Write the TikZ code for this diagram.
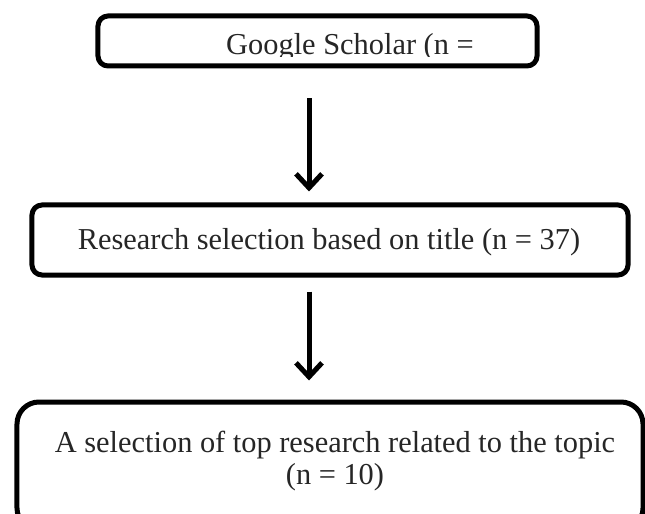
\documentclass[tikz,border=0pt]{standalone}
\usepackage{fontspec}
\setmainfont{Liberation Serif}
\usetikzlibrary{arrows.meta}
\begin{document}
\begin{tikzpicture}[x=1bp,y=-1bp,
  box/.style={draw=black, line width=5bp, fill=white, inner sep=0pt},
  txt/.style={inner sep=0pt, font=\fontsize{30.5}{33}\selectfont, text=black!85},
  arr/.style={line width=5bp, -{Straight Barb[length=14bp,width=26bp]}}]
\useasboundingbox (0,0) rectangle (645,514);
\clip (0,0) rectangle (645,514);
% boxes
\node[box, rounded corners=10bp, minimum width=439bp, minimum height=50bp] (top) at (317.5,41) {};
\node[box, rounded corners=10bp, minimum width=596bp, minimum height=70bp] (mid) at (330,240) {};
\node[box, rounded corners=22bp, minimum width=626bp, minimum height=128bp] (bot) at (330,466) {};
% texts
\begin{scope}
\clip (100,20) rectangle (535,57);
\node[txt, anchor=base] (toptxt) at (350,55) {Google Scholar (n =};
\end{scope}
\node[txt, anchor=base] (midtxt) at (329,250) {Research selection based on title (n = 37)};
\node[txt, align=center] (bottxt) at (335,461) {A selection of top research related to the topic\\(n = 10)};
% arrows
\coordinate (ax) at (309,0);
\draw[arr, shorten <=30bp, shorten >=11bp] (top.south -| ax) -- (mid.north -| ax);
\draw[arr, shorten <=14bp, shorten >=19bp] (mid.south -| ax) -- (bot.north -| ax);
\end{tikzpicture}
\end{document}
